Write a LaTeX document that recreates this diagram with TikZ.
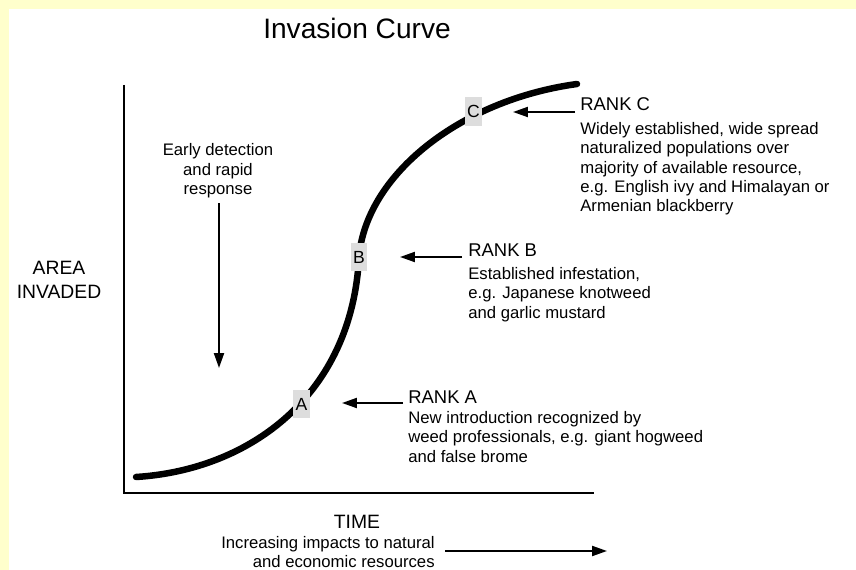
\documentclass[tikz,border=0pt]{standalone}
\usepackage{fontspec}
\setmainfont{Liberation Sans}
\usetikzlibrary{arrows.meta}
\definecolor{paleyellow}{HTML}{FFFFCC}
\definecolor{boxgray}{HTML}{DDDDDD}

\begin{document}
\begin{tikzpicture}[x=0.02cm,y=-0.02cm]
%\draw[help lines] (0,0) grid[step=50] (856,570);
\tikzstyle{lbl}=[fill=boxgray,inner sep=0pt,minimum width=9.6pt,minimum height=16pt,font=\fontsize{10}{12}\selectfont]
\tikzstyle{txt}=[align=left,anchor=north west,inner sep=0pt,font=\fontsize{9.5}{11}\selectfont]
\tikzstyle{hd}=[anchor=west,inner sep=0pt,font=\fontsize{10.5}{12}\selectfont]
\tikzstyle{axis}=[align=center,inner sep=0pt,font=\fontsize{11}{13.6}\selectfont]
\tikzstyle{arr}=[-{Triangle[length=8.5pt,width=5.7pt]},line width=1.1pt]

\useasboundingbox (0,0) rectangle (856,570);
\fill[paleyellow] (0,0) rectangle (856,570);
\fill[white] (9,9) rectangle (856,570);

\node[inner sep=0pt,font=\fontsize{16}{19}\selectfont] (title) at (357,28) {Invasion Curve};

% axes
\coordinate (top) at (124,85);
\coordinate (orig) at (124,493);
\coordinate (right) at (594,493);
\draw[line width=1.1pt] (top) -- (orig) -- (right);

% the curve
\draw[line width=3.7pt,line cap=round] (136,477) .. controls (250,470) and (352,395) .. (359,257)
  .. controls (366,175) and (460,100) .. (577,84);

\node[lbl] (A) at (301.5,404) {A};
\node[lbl] (B) at (359,257) {B};
\node[lbl] (C) at (473.5,111.5) {C};

% ranks
\node[hd] (hdC) at (580,104) {RANK C};
\node[txt] (txC) at (580,122) {Widely established, wide spread\\naturalized populations over\\majority of available resource,\\e.g. English ivy and Himalayan or\\Armenian blackberry};
\node[hd] (hdB) at (468,250) {RANK B};
\node[txt] (txB) at (468,267) {Established infestation,\\e.g. Japanese knotweed\\and garlic mustard};
\node[hd] (hdA) at (408,397) {RANK A};
\node[txt] (txA) at (408,411) {New introduction recognized by\\weed professionals, e.g. giant hogweed\\and false brome};

\coordinate (tipC) at (513,112);
\coordinate (tipB) at (400,257);
\coordinate (tipA) at (342,403);
\draw[arr] (hdC.west |- tipC) ++(-5,0) -- (tipC);
\draw[arr] (hdB.west |- tipB) ++(-6,0) -- (tipB);
\draw[arr] (hdA.west |- tipA) ++(-5,0) -- (tipA);

% early detection
\node[axis,font=\fontsize{9.5}{11}\selectfont] (early) at (218,171) {Early detection\\and rapid\\response};
\coordinate (edge) at (219,368);
\draw[arr] (early.south -| edge) ++(0,5) -- (edge);

% axis labels
\node[axis] (area) at (59,279.5) {AREA\\INVADED};
\node[axis] (time) at (357,522) {TIME};
\node[axis,align=right,anchor=east,font=\fontsize{9.5}{11}\selectfont] (impact) at (435,552) {Increasing impacts to natural\\and economic resources};
\coordinate (tend) at (607,551);
\draw[arr] (impact.east |- tend) ++(10,0) -- (tend);
\end{tikzpicture}
\end{document}
